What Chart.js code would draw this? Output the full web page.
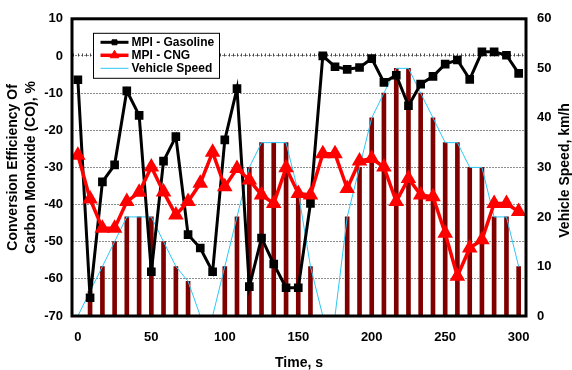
<!DOCTYPE html>
<html>
<head>
<meta charset="utf-8">
<script src="https://cdn.jsdelivr.net/npm/chart.js@4.4.0/dist/chart.umd.min.js"></script>
<style>
  html, body { margin: 0; padding: 0; background: #fff; }
</style>
</head>
<body>
<canvas id="myChart" width="572" height="370"></canvas>
<script>
'use strict';

// Sample times, s (one reading every 8.3 s)
let timeSec = [0, 8.3, 16.7, 25, 33.3, 41.7, 50, 58.3, 66.7, 75, 83.3, 91.7, 100,
  108.3, 116.7, 125, 133.3, 141.7, 150, 158.3, 166.7, 175, 183.3, 191.7, 200,
  208.3, 216.7, 225, 233.3, 241.7, 250, 258.3, 266.7, 275, 283.3, 291.7, 300];

// CO conversion efficiency, %
let gasolineEff = [-6.4, -65.1, -33.9, -29.3, -9.4, -16.0, -58.1, -28.3, -21.7, -48.1,
  -51.7, -58.1, -22.6, -8.8, -62.1, -49.0, -56.0, -62.4, -62.4, -39.7,
  0, -2.9, -3.6, -3.1, -0.7, -7.1, -5.2, -13.4, -7.6, -5.5,
  -2.2, -1.1, -6.3, 1.1, 1.1, 0.2, -4.7];

let cngEff = [-26.7, -38.5, -46.4, -46.4, -39.2, -36.7, -29.9, -36.6, -42.8, -39.2,
  -34.3, -25.9, -35.2, -30.3, -33.4, -37.4, -39.7, -30.1, -37.0, -37.4,
  -26.3, -26.3, -35.7, -28.3, -27.6, -29.9, -39.2, -33.0, -37.4, -37.9,
  -47.7, -59.3, -51.7, -49.5, -39.7, -39.7, -41.9];

// Vehicle speed, km/h
let speedKmh = [0, 5, 10, 15, 20, 20, 20, 15, 10, 7,
  0, 0, 10, 20, 30, 35, 35, 35, 25, 10,
  0, 0, 20, 30, 40, 45, 50, 50, 45, 40,
  35, 35, 30, 30, 20, 20, 10];

// Axis ticks
let timeTicks = [0, 50, 100, 150, 200, 250, 300];
let effTicks = [-70, -60, -50, -40, -30, -20, -10, 0, 10];
let speedTicks = [0, 10, 20, 30, 40, 50, 60];

const FONT = "'Liberation Sans', Arial, sans-serif";

function toPoints(values) {
  return values.map((v, i) => ({ x: timeSec[i], y: v }));
}

function setTicks(list) {
  return function (scale) {
    scale.ticks = list.map(v => ({ value: v }));
  };
}

// zero line ticks, plot frame, legend box and right axis title
const chartDecor = {
  id: 'chartDecor',
  beforeDatasetsDraw(chart) {
    const { ctx, scales } = chart;
    const y0 = Math.round(scales.y.getPixelForValue(0)) + 0.5;
    ctx.save();
    ctx.strokeStyle = '#444';
    ctx.lineWidth = 1;
    ctx.beginPath();
    for (let t = scales.x.min + 1; t <= scales.x.max; t += 25 / 9) {
      let x = Math.round(scales.x.getPixelForValue(t)) + 0.5;
      ctx.moveTo(x, y0);
      ctx.lineTo(x, y0 - 3);
    }
    ctx.stroke();
    ctx.restore();
  },
  afterDatasetsDraw(chart) {
    const { ctx, chartArea: area } = chart;
    ctx.save();
    ctx.strokeStyle = '#000';
    ctx.lineWidth = 3;
    ctx.strokeRect(area.left, area.top, area.right - area.left, area.bottom - area.top);

    // legend
    let bx = area.left + 21.5;
    let by = area.top + 14.5;
    ctx.fillStyle = '#fff';
    ctx.fillRect(bx, by, 126, 45);
    ctx.lineWidth = 1;
    ctx.strokeRect(bx, by, 126, 45);
    ctx.font = 'bold 12px ' + FONT;
    ctx.textBaseline = 'middle';
    ctx.textAlign = 'left';
    let rows = chart.data.datasets.filter(d => d.type === 'line');
    rows.forEach((ds, i) => {
      let ry = by + 9 + i * 13;
      ctx.strokeStyle = ds.borderColor;
      ctx.lineWidth = ds.borderWidth;
      ctx.beginPath();
      ctx.moveTo(bx + 7, ry);
      ctx.lineTo(bx + 35, ry);
      ctx.stroke();
      if (ds.pointRadius > 0) {
        ctx.fillStyle = ds.pointBackgroundColor;
        ctx.strokeStyle = ds.pointBorderColor;
        ctx.lineWidth = 1;
        Chart.helpers.drawPoint(ctx, {
          pointStyle: ds.pointStyle,
          radius: ds.pointRadius - 0.5,
          rotation: 0,
          borderWidth: 1
        }, bx + 21, ry);
      }
      ctx.fillStyle = '#000';
      ctx.fillText(ds.label, bx + 38, ry + 0.5);
    });
    ctx.restore();
  },
  afterDraw(chart) {
    const { ctx, chartArea: area } = chart;
    ctx.save();
    ctx.font = 'bold 14px ' + FONT;
    ctx.fillStyle = '#000';
    ctx.textAlign = 'center';
    ctx.textBaseline = 'middle';
    ctx.translate(chart.width - 7, (area.top + area.bottom) / 2 + 3);
    ctx.rotate(-Math.PI / 2);
    ctx.fillText('Vehicle Speed, km/h', 0, 0);
    ctx.restore();
  }
};

Chart.defaults.font.family = FONT;
Chart.defaults.font.size = 13;
Chart.defaults.font.weight = 'bold';
Chart.defaults.color = '#000';

let ctx = document.getElementById('myChart').getContext('2d');
let myChart = new Chart(ctx, { // eslint-disable-line
  type: 'bar',
  data: {
    datasets: [
      {
        type: 'line',
        label: 'MPI - Gasoline',
        data: toPoints(gasolineEff),
        yAxisID: 'y',
        borderColor: '#000',
        borderWidth: 3,
        pointStyle: 'rect',
        pointRadius: 4,
        pointBackgroundColor: '#000',
        pointBorderColor: '#000',
        order: 2
      },
      {
        type: 'line',
        label: 'MPI - CNG',
        data: toPoints(cngEff),
        yAxisID: 'y',
        borderColor: '#ff0000',
        borderWidth: 3.5,
        pointStyle: 'triangle',
        pointRadius: 5.5,
        pointBackgroundColor: '#ff0000',
        pointBorderColor: '#ff0000',
        order: 1
      },
      {
        type: 'line',
        label: 'Vehicle Speed',
        data: toPoints(speedKmh),
        yAxisID: 'y1',
        borderColor: '#2cc8f4',
        borderWidth: 1,
        pointRadius: 0,
        order: 3
      },
      {
        type: 'bar',
        label: 'Vehicle Speed',
        data: toPoints(speedKmh),
        yAxisID: 'y1',
        backgroundColor: '#800000',
        barThickness: 4,
        order: 4
      }
    ]
  },
  options: {
    responsive: false,
    animation: false,
    layout: { padding: { top: 16, left: 0, right: 0, bottom: 0 } },
    plugins: {
      legend: { display: false },
      tooltip: { enabled: false }
    },
    scales: {
      x: {
        type: 'linear',
        position: 'bottom',
        offset: false,
        min: -4,
        max: 305,
        afterBuildTicks: setTicks(timeTicks),
        grid: { display: false, drawTicks: false },
        border: { display: false },
        ticks: { padding: 14, maxRotation: 0 },
        title: {
          display: true,
          text: 'Time, s',
          padding: 0,
          font: { size: 14, weight: 'bold', lineHeight: 1 }
        },
        afterFit: s => { s.height = 54; }
      },
      y: {
        type: 'linear',
        position: 'left',
        min: -70,
        max: 10,
        afterBuildTicks: setTicks(effTicks),
        grid: {
          drawTicks: false,
          lineWidth: 1,
          color: c => (c.tick.value === -70 || c.tick.value === 10) ? 'rgba(0,0,0,0)' : '#8c8c8c'
        },
        border: { display: false, dash: [2, 1] },
        ticks: { padding: 9 },
        title: {
          display: true,
          text: ['Conversion Efficiency Of', 'Carbon Monoxide (CO), %'],
          padding: { top: 4.5, bottom: 0 },
          font: { size: 14, weight: 'bold', lineHeight: 1.286 }
        },
        afterFit: s => { s.width = 72; }
      },
      y1: {
        type: 'linear',
        position: 'right',
        min: 0,
        max: 60,
        afterBuildTicks: setTicks(speedTicks),
        grid: { display: false, drawTicks: false },
        border: { display: false },
        ticks: { padding: 11 },
        afterFit: s => { s.width = 46; }
      }
    }
  },
  plugins: [chartDecor]
});
</script>
</body>
</html>
